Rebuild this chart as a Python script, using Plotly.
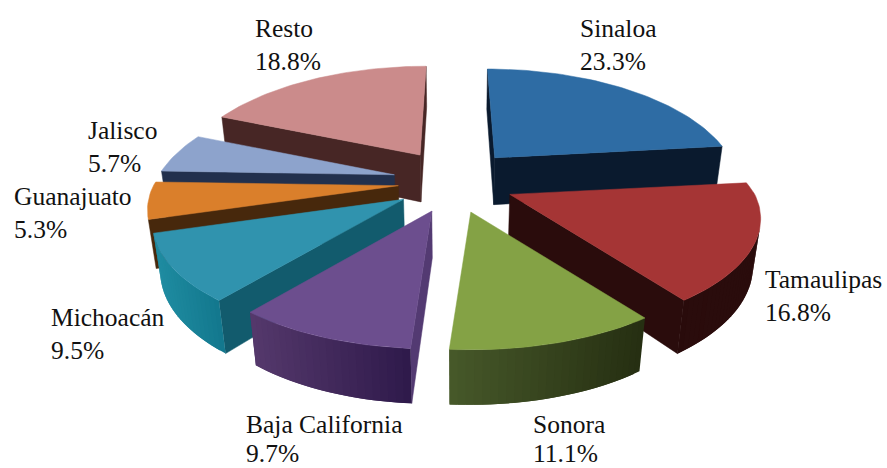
import numpy as np
import plotly.graph_objects as go

labels = ["Sinaloa", "Tamaulipas", "Sonora", "Baja California", "Michoacán", "Guanajuato", "Jalisco", "Resto"]
values = [23.3, 16.8, 11.1, 9.7, 9.5, 5.3, 5.7, 18.8]
top_colors = ["#2E6CA4", "#A53535", "#84A245", "#6C4E8E", "#3093AE", "#DA7F2B", "#8DA3CC", "#CB8B8B"]
cut_colors = ["#0A1A2E", "#2A0C0C", "#2A3614", "#533A72", "#125B6D", "#47280C", "#22304D", "#472625"]
wall_left = ["#0A1A2E", "#2A0C0C", "#47592A", "#55396C", "#208DA2", "#7A4A10", "#22304D", "#472625"]
wall_right = ["#0A1A2E", "#2A0C0C", "#262F12", "#2F1A4B", "#13788E", "#47280C", "#22304D", "#472625"]
label_x = [578, 763, 531, 244, 49, 12, 86, 253]
label_y = [12, 263, 408, 408, 301, 180, 114, 12]
value_y = [45, 296, 437, 437, 334, 213, 147, 45]
x_scale = [0.96, 1.0, 1.0, 0.985, 1.0, 1.0, 0.96, 0.96]
pull_scale = [1.0, 1.0, 1.0, 1.0, 1.0, 0.92, 1.0, 1.0]

CX, CY, A, B, K, H, M, PULL_X, PULL_Y = 454, 181.5, 245, 108, 0.2157, 48, 0.025, 61, 31.8


def to_rgb(c):
    return np.array([int(c[i:i + 2], 16) for i in (1, 3, 5)], float)


def mix(c1, c2, t):
    r = to_rgb(c1) * (1 - t) + to_rgb(c2) * t
    return "rgb(%d,%d,%d)" % tuple(r)


def area(xs, ys):
    return 0.5 * np.sum(np.array(xs) * np.roll(ys, -1) - np.roll(xs, -1) * np.array(ys))


fig = go.Figure()


def face(pts, color, cull=True, lw=0.5):
    xs = [p[0] for p in pts]
    ys = [p[1] for p in pts]
    if cull and area(xs, ys) >= 0:
        return
    fig.add_trace(go.Scatter(x=xs + xs[:1], y=ys + ys[:1], mode="lines", fill="toself",
                             fillcolor=color, line=dict(color=color, width=lw),
                             hoverinfo="skip", showlegend=False))


edges = np.cumsum([0] + values) / sum(values) * 2 * np.pi
mids = (edges[:-1] + edges[1:]) / 2
order = np.argsort(-np.cos(mids))  # back slices first

for i in order:
    a0, a1 = edges[i], edges[i + 1]
    off = PULL_X * pull_scale[i] * np.sin(mids[i])
    ay = CY - PULL_Y * np.cos(mids[i])

    def P(t, r, z):
        u, v = r * np.sin(t), -r * np.cos(t)
        w = 1 - K * v + M * z
        wb = w if v < 0 else 1 + M * z  # offsets converge towards the back only
        return CX + off / wb + A * x_scale[i] * u / w, ay + (B * v + H * z) / w

    ts = np.linspace(a0, a1, max(int((a1 - a0) * 40), 6))
    face([P(a0, 0, 0), P(a0, 1, 0), P(a0, 1, 1), P(a0, 0, 1)], cut_colors[i])
    face([P(a1, 1, 0), P(a1, 0, 0), P(a1, 0, 1), P(a1, 1, 1)], cut_colors[i])
    xall = [P(t, 1, 0)[0] for t in ts]
    x0, x1 = min(xall), max(xall)
    dt = ts[1] - ts[0]
    for t0, t1 in zip(ts[:-1], ts[1:]):
        f = ((P(t0, 1, 0)[0] + P(t1, 1, 0)[0]) / 2 - x0) / max(x1 - x0, 1)
        t2 = min(t1 + dt, a1)  # overlap the next strip so no seams show
        face([P(t0, 1, 0), P(t2, 1, 0), P(t2, 1, 1), P(t0, 1, 1)],
             mix(wall_left[i], wall_right[i], f), lw=0)
    face([P(a0, 0, 0)] + [P(t, 1, 0) for t in ts], top_colors[i], cull=False)

font = dict(family="Liberation Serif", size=25.5, color="#111111")
for name, val, x, y, y2 in zip(labels, values, label_x, label_y, value_y):
    fig.add_annotation(x=x, y=y, text=name, showarrow=False, xanchor="left", yanchor="top", font=font)
    fig.add_annotation(x=x, y=y2, text=f"{val}%", showarrow=False, xanchor="left", yanchor="top", font=font)

fig.update_layout(width=887, height=468, margin=dict(l=0, r=0, t=0, b=0), paper_bgcolor="white",
                  plot_bgcolor="white", showlegend=False,
                  xaxis=dict(range=[0, 887], visible=False, fixedrange=True),
                  yaxis=dict(range=[468, 0], visible=False, fixedrange=True))
fig.write_html("out.html", post_script="document.body.style.margin='0';document.body.style.overflow='hidden';",
               config={"displayModeBar": False})
